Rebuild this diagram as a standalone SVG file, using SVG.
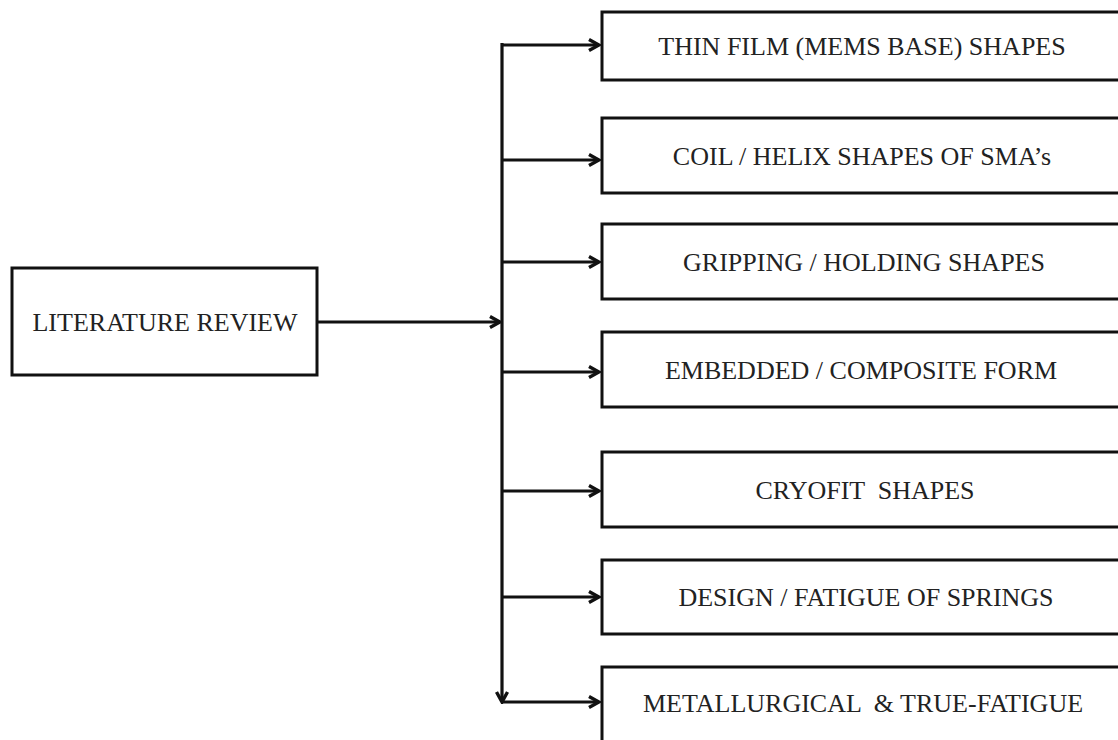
<svg xmlns="http://www.w3.org/2000/svg" width="1118" height="740" viewBox="0 0 1118 740">
<style>
.box{fill:#fff;stroke:#111;stroke-width:3}
.lbl{font-family:"Liberation Serif","Times New Roman",serif;font-size:26px;fill:#222;text-anchor:middle;white-space:pre}
.ln{stroke:#111;stroke-width:3.2;fill:none}
</style>
<defs>
<marker id="ah" viewBox="0 0 14 14" refX="12" refY="7" markerWidth="14" markerHeight="14" markerUnits="userSpaceOnUse" orient="auto">
<path d="M2,1.5 L12,7 L2,12.5" fill="none" stroke="#111" stroke-width="3.4"/>
</marker>
</defs>
<rect width="1118" height="740" fill="#fff"/>
<g id="connectors">
<line class="ln" x1="317" y1="322" x2="500" y2="322" marker-end="url(#ah)"/>
<line class="ln" x1="502" y1="43" x2="502" y2="702" marker-end="url(#ah)"/>
<line class="ln" x1="502" y1="45" x2="599" y2="45" marker-end="url(#ah)"/>
<line class="ln" x1="502" y1="160" x2="599" y2="160" marker-end="url(#ah)"/>
<line class="ln" x1="502" y1="262" x2="599" y2="262" marker-end="url(#ah)"/>
<line class="ln" x1="502" y1="372" x2="599" y2="372" marker-end="url(#ah)"/>
<line class="ln" x1="502" y1="491" x2="599" y2="491" marker-end="url(#ah)"/>
<line class="ln" x1="502" y1="597" x2="599" y2="597" marker-end="url(#ah)"/>
<line class="ln" x1="502" y1="702" x2="599" y2="702" marker-end="url(#ah)"/>
</g>
<g id="literature-review">
<rect class="box" x="12" y="268" width="305" height="107"/>
<text class="lbl" x="165" y="331">LITERATURE REVIEW</text>
</g>
<g id="thin-film">
<rect class="box" x="602" y="12" width="530" height="68"/>
<text class="lbl" x="862" y="55">THIN FILM (MEMS BASE) SHAPES</text>
</g>
<g id="coil-helix">
<rect class="box" x="602" y="118" width="530" height="75"/>
<text class="lbl" x="862" y="165">COIL / HELIX SHAPES OF SMA’s</text>
</g>
<g id="gripping">
<rect class="box" x="602" y="224" width="530" height="75"/>
<text class="lbl" x="864" y="271">GRIPPING / HOLDING SHAPES</text>
</g>
<g id="embedded">
<rect class="box" x="602" y="332" width="530" height="75"/>
<text class="lbl" x="861" y="379">EMBEDDED / COMPOSITE FORM</text>
</g>
<g id="cryofit">
<rect class="box" x="602" y="452" width="530" height="75"/>
<text class="lbl" x="865" y="499">CRYOFIT  SHAPES</text>
</g>
<g id="design-fatigue">
<rect class="box" x="602" y="560" width="530" height="74"/>
<text class="lbl" x="866" y="606">DESIGN / FATIGUE OF SPRINGS</text>
</g>
<g id="metallurgical">
<rect class="box" x="602" y="667" width="530" height="90"/>
<text class="lbl" x="863" y="712">METALLURGICAL  &amp; TRUE-FATIGUE</text>
</g>
</svg>
